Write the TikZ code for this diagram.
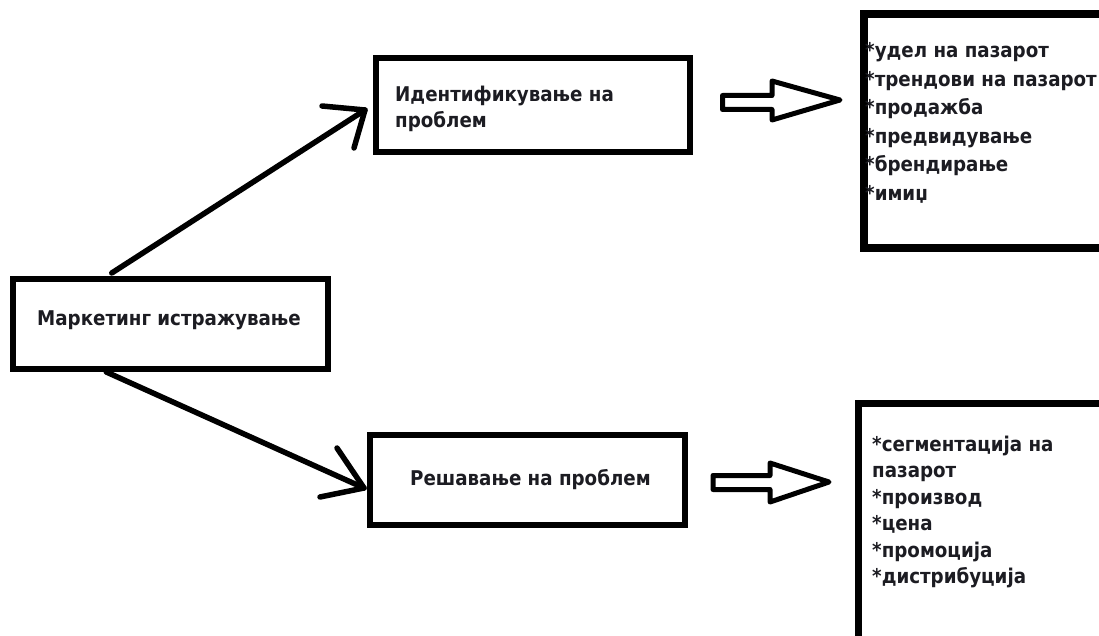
\documentclass[tikz,border=0pt]{standalone}
\usepackage{fontspec}
\setmainfont{DejaVu Sans Condensed}
\usetikzlibrary{calc}
\definecolor{ink}{RGB}{0,0,0}
\definecolor{txt}{RGB}{28,28,34}
\tikzset{
  box/.style={draw=ink, line width=6pt, inner sep=0pt, fill=white},
  lbl/.style={anchor=base west, inner sep=0pt, text=txt, font=\bfseries\fontsize{20.3}{25.5}\selectfont, align=left},
  conn/.style={draw=ink, line width=5.5pt, line cap=round, line join=round},
  fat/.style={draw=ink, line width=5pt, line join=round}
}
\begin{document}
\begin{tikzpicture}[x=1pt, y=-1pt]
  \useasboundingbox (0,0) rectangle (1099,636);
  \fill[white] (0,0) rectangle (1099,636);
  \clip (0,0) rectangle (1099,636);

  % main boxes
  \node[box, minimum width=315pt, minimum height=90pt] (mr) at (170.5,324) {};
  \node[box, minimum width=314pt, minimum height=94pt] (idp) at (533,105) {};
  \node[box, minimum width=315pt, minimum height=90pt] (rsp) at (527.5,480) {};
  % list boxes (they run past the right edge)
  \node[box, line width=8pt, minimum width=260pt, minimum height=234pt] (lst1) at (994,131) {};
  \node[box, line width=7pt, minimum width=260pt, minimum height=260pt] (lst2) at (988.5,533.5) {};

  % texts (multi-line nodes sit on the baseline of their last line)
  \node[lbl] (tmr) at (37,325) {Маркетинг истражување};
  \node[lbl] (tidp) at (395,127.5) {Идентификување на\\проблем};
  \node[lbl] (trsp) at (410,485) {Решавање на проблем};
  \node[lbl, font=\bfseries\fontsize{20.3}{28.5}\selectfont] (tl1) at (865,200.5)
    {*удел на пазарот\\*трендови на пазарот\\*продажба\\*предвидување\\*брендирање\\*имиџ};
  \node[lbl, font=\bfseries\fontsize{20.3}{26.5}\selectfont] (tl2) at (872,583.5)
    {*сегментација на\\пазарот\\*производ\\*цена\\*промоција\\*дистрибуција};

  % connectors from the main box
  \coordinate (tipA) at ($(idp.west)+(-8,5)$);
  \coordinate (tipB) at ($(rsp.west)+(-3,8)$);
  \draw[conn] ($(mr.north west)!0.317!(mr.north east)+(0,-3)$) -- (tipA);
  \draw[conn] ($(tipA)+(-43,-4)$) -- (tipA) -- ++(-11,38);
  \draw[conn] ($(mr.south west)!0.30!(mr.south east)$) -- (tipB);
  \draw[conn] ($(tipB)+(-27,-40)$) -- (tipB) -- ++(-44,9);

  % hollow block arrows towards the lists
  \draw[fat] (722.5,95.5) -- (772,95.5) -- (772,81) -- (840,100)
             -- (772,120) -- (772,109.5) -- (722.5,109.5) -- cycle;
  \draw[fat] (713,475.5) -- (770,475.5) -- (770,463) -- (829,482)
             -- (770,502) -- (770,489.5) -- (713,489.5) -- cycle;
\end{tikzpicture}
\end{document}
